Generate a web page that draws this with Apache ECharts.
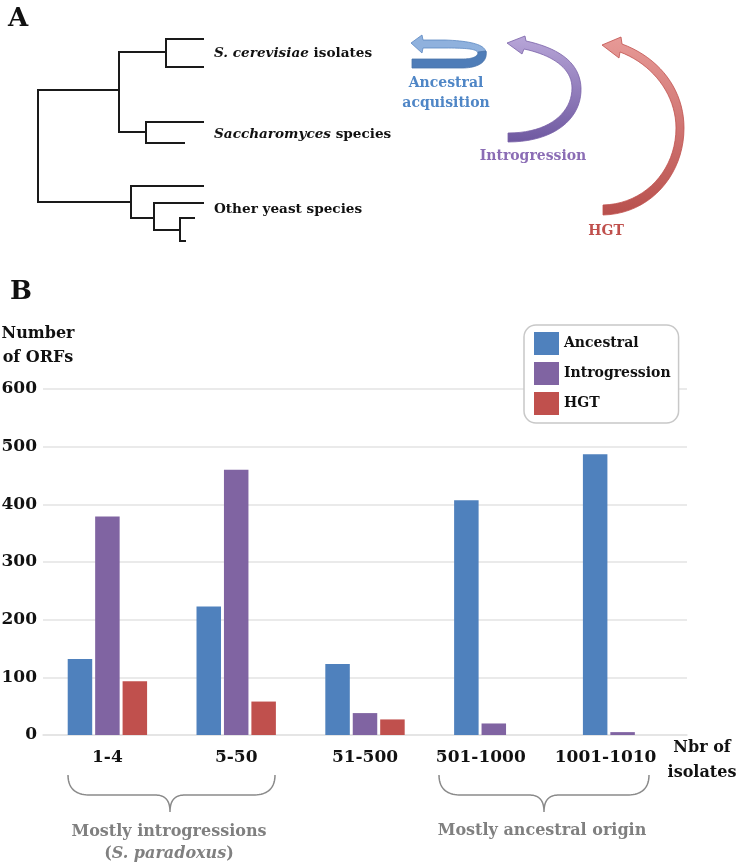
<!DOCTYPE html>
<html><head><meta charset="utf-8">
<script src="https://cdn.jsdelivr.net/npm/echarts@6/dist/echarts.min.js"></script>
<style>html,body{margin:0;padding:0;background:#fff;} #chart{width:737px;height:868px;}</style>
</head><body><div id="chart"></div>
<script>
// ---- data ----
const categories = ['1-4', '5-50', '51-500', '501-1000', '1001-1010'];
const ancestral = [132, 223, 123, 407, 487];
const introgression = [379, 460, 38, 20, 5];
const hgt = [93, 58, 27, 0, 0];
const seriesNames = ['Ancestral', 'Introgression', 'HGT'];
const yMin = 0, yMax = 600, yInterval = 100;

// ---- styles ----
const SERIF = '"DejaVu Serif", "Liberation Serif", serif';
const COLORS = ['#4F81BD', '#8064A2', '#C0504D'];
const INK = '#111';

function pathPts(d) {
  const t = d.replace(/,/g, ' ').trim().split(/\s+/);
  const pts = []; let i = 0, cx = 0, cy = 0, cmd = 'M';
  while (i < t.length) {
    if (/[A-Za-z]/.test(t[i])) { cmd = t[i++]; if (cmd === 'Z') continue; }
    if (cmd === 'M' || cmd === 'L') {
      cx = +t[i++]; cy = +t[i++]; pts.push([cx, cy]);
    } else if (cmd === 'C') {
      const x1 = +t[i++], y1 = +t[i++], x2 = +t[i++], y2 = +t[i++], x3 = +t[i++], y3 = +t[i++];
      for (let k = 1; k <= 20; k++) {
        const s = k / 20, u = 1 - s;
        pts.push([u*u*u*cx + 3*u*u*s*x1 + 3*u*s*s*x2 + s*s*s*x3,
                  u*u*u*cy + 3*u*u*s*y1 + 3*u*s*s*y2 + s*s*s*y3]);
      }
      cx = x3; cy = y3;
    } else { i++; }
  }
  return pts;
}
function grad(c1, c2) {
  return {type: 'linear', x: 0, y: 0, x2: 0, y2: 1, colorStops: [{offset: 0, color: c1}, {offset: 1, color: c2}]};
}

const treeBrackets = [
  [[204,39],[166,39],[166,67],[204,67]],
  [[166,52],[119,52],[119,132],[146,132]],
  [[204,122],[146,122],[146,143],[185,143]],
  [[119,90],[38,90],[38,202],[131,202]],
  [[204,186],[131,186],[131,218],[154,218]],
  [[204,203],[154,203],[154,230],[180,230]],
  [[195,218],[180,218],[180,241],[186,241]]
];

const graphics = [];
treeBrackets.forEach(p => graphics.push({type: 'polyline', shape: {points: p}, style: {stroke: '#1a1a1a', lineWidth: 2, fill: null}, silent: true}));

function txt(x, y, text, opts) {
  graphics.push(Object.assign({type: 'text', x: x, y: y, silent: true, style: Object.assign({
    text: text, font: 'bold 14px ' + SERIF, fill: INK, textAlign: 'left', textVerticalAlign: 'middle'
  }, opts || {})}));
}
txt(8, 19, 'A', {font: 'bold 26px ' + SERIF});
txt(10, 292, 'B', {font: 'bold 26px ' + SERIF});
const richI = {i: {fontStyle: 'italic', fontWeight: 'bold', fontSize: 13.6, fontFamily: SERIF, fill: INK, color: INK}};
txt(214, 53, '{i|S. cerevisiae} isolates', {rich: richI, font: 'bold 13.6px ' + SERIF});
txt(214, 134, '{i|Saccharomyces} species', {rich: richI, font: 'bold 13.6px ' + SERIF});
txt(214, 209, 'Other yeast species', {font: 'bold 13.6px ' + SERIF});

// arrows
graphics.push({type: 'polygon', silent: true, shape: {points: pathPts('M 423 40 L 445 40 C 472 41 486 45 486 53 L 478 53 C 477 49 468 48 445 48 L 423 48 L 422 53 L 411 43 L 422 35 Z')},
  style: {fill: '#8FB1DD', stroke: '#5C88C2', lineWidth: 0.8}});
graphics.push({type: 'polygon', silent: true, shape: {points: pathPts('M 412 59 L 462 59 C 474 59 478 56 478 52 L 486 51 C 488 62 478 68 462 68 L 412 68 Z')},
  style: {fill: '#4F7DB8', stroke: '#4A74AA', lineWidth: 0.8}});
graphics.push({type: 'polygon', silent: true, shape: {points: pathPts('M 508 142 C 555 142 582 118 581 88 C 580 62 558 48 526 41 L 525 36 L 507 43 L 522 54 L 524 49 C 552 55 572 68 572 88 C 572 112 550 133 508 133 Z')},
  style: {fill: grad('#B8A6D8', '#6E58A0'), stroke: '#7A62A8', lineWidth: 0.8}});
graphics.push({type: 'polygon', silent: true, shape: {points: pathPts('M 603 215 C 650 214 684 175 684 128 C 684 90 660 58 622 44 L 621 37 L 602 45 L 619 58 L 620 52 C 652 64 676 94 676 128 C 676 170 645 204 603 205 Z')},
  style: {fill: grad('#E79A97', '#B8504D'), stroke: '#C0504D', lineWidth: 0.8}});
txt(446, 93, 'Ancestral\nacquisition', {fill: '#4F86C6', textAlign: 'center', lineHeight: 20});
txt(533, 156, 'Introgression', {fill: '#8B6DB5', textAlign: 'center'});
txt(606, 231, 'HGT', {fill: '#C0504D', textAlign: 'center'});

// braces
const braces = [
  'M 68 775 C 68 788 75 795 90 795 L 155 795 C 165 795 170 800 170 812 C 170 800 175 795 185 795 L 253 795 C 268 795 275 788 275 775',
  'M 439 775 C 439 788 446 795 461 795 L 529 795 C 539 795 544 800 544 812 C 544 800 549 795 559 795 L 627 795 C 642 795 649 788 649 775'
];
braces.forEach(d => graphics.push({type: 'polyline', silent: true, shape: {points: pathPts(d)}, style: {stroke: '#8a8a8a', lineWidth: 1.5, fill: null}}));
const GRAY = '#808080';
txt(169, 832, 'Mostly introgressions', {fill: GRAY, textAlign: 'center', font: 'bold 16px ' + SERIF});
txt(169, 854, '({i|S. paradoxus})', {fill: GRAY, textAlign: 'center', font: 'bold 16px ' + SERIF,
  rich: {i: {fontStyle: 'italic', fontWeight: 'bold', fontSize: 16, fontFamily: SERIF, fill: GRAY, color: GRAY}}});
txt(542, 831, 'Mostly ancestral origin', {fill: GRAY, textAlign: 'center', font: 'bold 16px ' + SERIF});

const labelFont = {fontFamily: SERIF, fontWeight: 'bold', fontSize: 17, color: INK};
const chart = echarts.init(document.getElementById('chart'), null, {renderer: 'canvas'});
chart.setOption({
  animation: false,
  backgroundColor: '#fff',
  grid: {left: 43, right: 50, top: 389, bottom: 133, containLabel: false, outerBoundsMode: 'none'},
  legend: {
    data: seriesNames, orient: 'vertical', left: 524, top: 325,
    icon: 'rect', itemWidth: 25, itemHeight: 23, itemGap: 7,
    padding: [7, 8, 8, 10], borderColor: '#c8c8c8', borderWidth: 1.5, borderRadius: 12, backgroundColor: '#fff',
    textStyle: {fontFamily: SERIF, fontWeight: 'bold', fontSize: 14, color: INK},
    selectedMode: false
  },
  xAxis: {
    type: 'category', data: categories,
    name: 'Nbr of\nisolates', nameLocation: 'end', nameGap: 15,
    nameTextStyle: {fontFamily: SERIF, fontWeight: 'bold', fontSize: 16, color: INK, lineHeight: 25, align: 'center', verticalAlign: 'top'},
    axisLine: {lineStyle: {color: '#e3e3e3', width: 1.5}},
    axisTick: {show: false},
    axisLabel: Object.assign({}, labelFont, {
      margin: 14, interval: 0,
      formatter: (v, i) => i === 3 ? '{a|' + v + '}' : i === 4 ? '{b|' + v + '}' : v,
      rich: {a: Object.assign({}, labelFont, {padding: [0, 26, 0, 0]}), b: Object.assign({}, labelFont, {padding: [0, 34, 0, 0]})}
    })
  },
  yAxis: {
    type: 'value', min: yMin, max: yMax, interval: yInterval,
    name: 'Number\nof ORFs', nameLocation: 'end', nameGap: 19,
    nameTextStyle: {fontFamily: SERIF, fontWeight: 'bold', fontSize: 16, color: INK, lineHeight: 24, align: 'center', padding: [0, 10, 0, 0]},
    axisLine: {show: false}, axisTick: {show: false},
    axisLabel: Object.assign({}, labelFont, {margin: 6}),
    splitLine: {lineStyle: {color: '#e3e3e3', width: 1.5}}
  },
  series: [
    {name: seriesNames[0], type: 'bar', data: ancestral, barWidth: 24.5, barGap: '12%', itemStyle: {color: COLORS[0]}},
    {name: seriesNames[1], type: 'bar', data: introgression, barWidth: 24.5, barGap: '12%', itemStyle: {color: COLORS[1]}},
    {name: seriesNames[2], type: 'bar', data: hgt, barWidth: 24.5, barGap: '12%', itemStyle: {color: COLORS[2]}}
  ],
  graphic: graphics
});
</script></body></html>
